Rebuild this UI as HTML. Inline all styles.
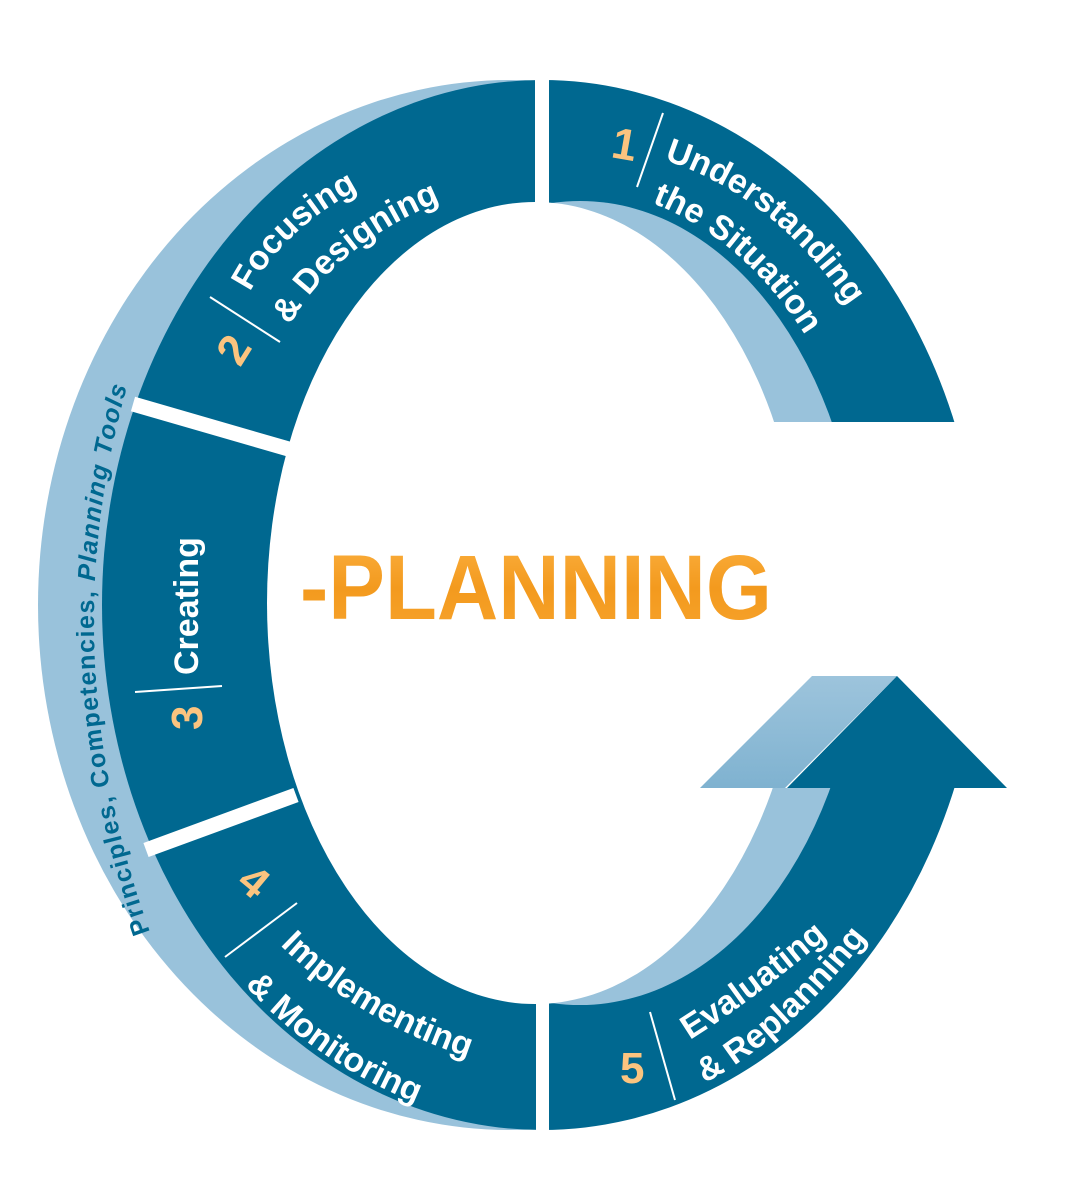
<!DOCTYPE html>
<html><head><meta charset="utf-8"><style>
html,body{margin:0;padding:0;background:#fff;}
svg{display:block;}
.l{font-family:"Liberation Sans",sans-serif;font-weight:bold;fill:#fff;font-size:34px;}
.n{font-family:"Liberation Sans",sans-serif;font-weight:bold;fill:#fbc47f;font-size:44px;}
</style></head><body>
<svg width="1077" height="1200" viewBox="0 0 1077 1200" xmlns="http://www.w3.org/2000/svg">
<defs>
<linearGradient id="og" x1="0" y1="0" x2="0" y2="1">
<stop offset="0" stop-color="#fbb040"/><stop offset="0.5" stop-color="#f39a1e"/><stop offset="1" stop-color="#f7a32c"/>
</linearGradient>
<linearGradient id="ag" x1="0" y1="0" x2="0" y2="1">
<stop offset="0" stop-color="#9dc4dc"/><stop offset="1" stop-color="#7fb2d0"/>
</linearGradient>
<path id="p1a" d="M664,160 Q790,200 870,340"/>
<path id="p1b" d="M652,203 Q760,245 825,370"/>
<path id="p2a" d="M250,292 Q290,215 400,170"/>
<path id="p2b" d="M290,325 Q340,235 470,190"/>
<path id="p4a" d="M280,945 Q373,1038 530,1075"/>
<path id="p4b" d="M245,985 Q330,1080 470,1122"/>
<path id="p5a" d="M690,1040 Q770,990 870,900"/>
<path id="p5b" d="M705,1083 Q805,1030 910,880"/>
<path id="pl" d="M150,932 Q38,620 150,316"/>
</defs>
<ellipse cx="510" cy="605" rx="472" ry="525" fill="#99c2db"/>
<ellipse cx="542" cy="605" rx="440" ry="525" fill="#006890"/>
<ellipse cx="580" cy="603" rx="282" ry="402" fill="#99c2db"/>
<ellipse cx="535" cy="603" rx="268" ry="401" fill="#fff"/>
<rect x="690" y="422" width="400" height="366" fill="#fff"/>
<polygon points="700,788 812,676 897,676 785,788" fill="url(#ag)"/>
<polygon points="897,676 1007,788 787,788" fill="#006890"/>
<rect x="535" y="70" width="14" height="134" fill="#fff"/>
<rect x="536" y="1003" width="13" height="135" fill="#fff"/>
<line x1="133" y1="404" x2="292" y2="450" stroke="#fff" stroke-width="15"/>
<line x1="146" y1="850" x2="296" y2="795" stroke="#fff" stroke-width="15"/>
<text x="300" y="619" font-family="'Liberation Sans',sans-serif" font-weight="bold" font-size="92" fill="url(#og)" textLength="472" lengthAdjust="spacingAndGlyphs">-PLANNING</text>
<text font-family="'Liberation Sans',sans-serif" font-weight="bold" font-size="25" fill="#006890" letter-spacing="1.5"><textPath href="#pl">Principles, Competencies, <tspan font-style="italic">Planning Tools</tspan></textPath></text>
<text class="n" transform="translate(610,157) rotate(10)">1</text>
<line x1="637" y1="187" x2="663" y2="113" stroke="#fff" stroke-width="2"/>
<text class="l"><textPath href="#p1a">Understanding</textPath></text>
<text class="l"><textPath href="#p1b">the Situation</textPath></text>
<text class="n" transform="translate(240,368) rotate(-58)">2</text>
<line x1="210" y1="297" x2="280" y2="342" stroke="#fff" stroke-width="2"/>
<text class="l"><textPath href="#p2a">Focusing</textPath></text>
<text class="l"><textPath href="#p2b">&amp; Designing</textPath></text>
<text class="n" transform="translate(202,730) rotate(-90)">3</text>
<line x1="135" y1="692" x2="222" y2="686" stroke="#fff" stroke-width="2"/>
<text class="l" transform="translate(198,675) rotate(-90)">Creating</text>
<text class="n" transform="translate(235,885) rotate(40)">4</text>
<line x1="225" y1="957" x2="297" y2="903" stroke="#fff" stroke-width="2"/>
<text class="l"><textPath href="#p4a">Implementing</textPath></text>
<text class="l"><textPath href="#p4b">&amp; Monitoring</textPath></text>
<text class="n" x="620" y="1083">5</text>
<line x1="650" y1="1012" x2="675" y2="1100" stroke="#fff" stroke-width="2"/>
<text class="l"><textPath href="#p5a">Evaluating</textPath></text>
<text class="l"><textPath href="#p5b">&amp; Replanning</textPath></text>
</svg>
</body></html>
